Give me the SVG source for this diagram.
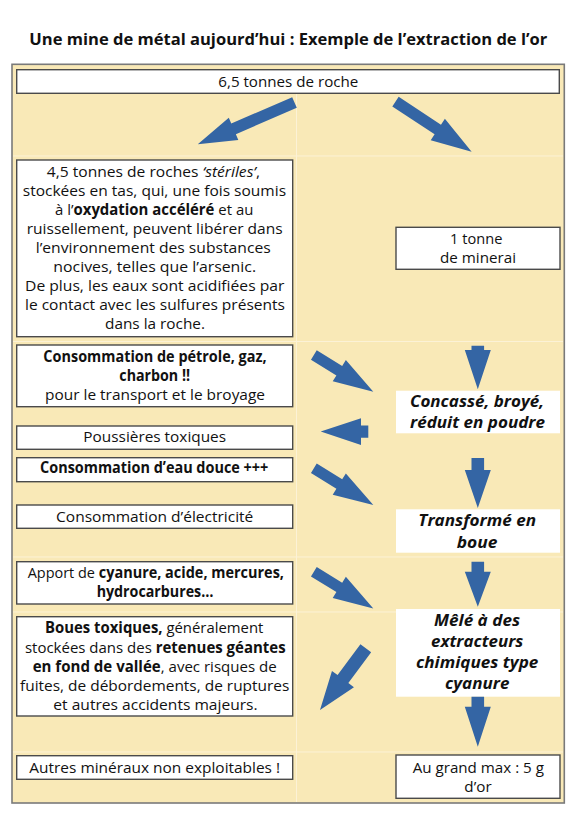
<svg xmlns="http://www.w3.org/2000/svg" width="580" height="825" viewBox="0 0 580 825">
<style>
.bg{fill:#F9E9B7;stroke:#7a7a7a;stroke-width:1.6}
.grid{stroke:#FCF2D6;stroke-width:1;fill:none}
.box{fill:#fff;stroke:#4a4a4a;stroke-width:1.4}
.wbox{fill:#fff}
text{font-family:"Open Sans","Noto Sans",sans-serif;font-size:15.3px;fill:#111;text-anchor:middle}
.b{font-weight:bold}
.i{font-style:italic}
.h{font-size:16px;font-weight:bold;font-style:italic}
.title{font-size:16.5px;font-weight:bold}
.arr{fill:#3465A4}
</style>
<rect width="580" height="825" fill="#fff"/>
<text class="title" x="288.3" y="45" textLength="518" lengthAdjust="spacingAndGlyphs">Une mine de métal aujourd’hui : Exemple de l’extraction de l’or</text>
<rect class="bg" x="12" y="64.3" width="552.3" height="738.7"/>
<g id="grid">
<line class="grid" x1="296.5" y1="94" x2="296.5" y2="802"/>
<line class="grid" x1="13" y1="156" x2="563" y2="156"/>
<line class="grid" x1="13" y1="341.5" x2="563" y2="341.5"/>
<line class="grid" x1="13" y1="557" x2="563" y2="557"/>
<line class="grid" x1="13" y1="612" x2="563" y2="612"/>
<line class="grid" x1="13" y1="752" x2="563" y2="752"/>
</g>
<g id="n-roche">
<rect class="box" x="16.7" y="69.7" width="542.6" height="23.6"/>
<text x="288.3" y="87" textLength="140" lengthAdjust="spacingAndGlyphs">6,5 tonnes de roche</text>
</g>
<g id="n-steriles">
<rect class="box" x="16.7" y="160" width="276" height="176.7"/>
<text x="153.4" y="176.8" textLength="213.3" lengthAdjust="spacingAndGlyphs">4,5 tonnes de roches <tspan class="i">‘stériles’</tspan>,</text>
<text x="154.4" y="195.9" textLength="263.3" lengthAdjust="spacingAndGlyphs">stockées en tas, qui, une fois soumis</text>
<text x="154.2" y="215" textLength="198.3" lengthAdjust="spacingAndGlyphs">à l’<tspan class="b">oxydation accéléré</tspan> et au</text>
<text x="154.7" y="234" textLength="256" lengthAdjust="spacingAndGlyphs">ruissellement, peuvent libérer dans</text>
<text x="153.2" y="253.1" textLength="235" lengthAdjust="spacingAndGlyphs">l’environnement des substances</text>
<text x="154.7" y="272.2" textLength="202.7" lengthAdjust="spacingAndGlyphs">nocives, telles que l’arsenic.</text>
<text x="154.7" y="291.2" textLength="259.3" lengthAdjust="spacingAndGlyphs">De plus, les eaux sont acidifiées par</text>
<text x="155" y="310.3" textLength="260" lengthAdjust="spacingAndGlyphs">le contact avec les sulfures présents</text>
<text x="155" y="329.4" textLength="100" lengthAdjust="spacingAndGlyphs">dans la roche.</text>
</g>
<g id="n-petrole">
<rect class="box" x="16.7" y="345" width="276" height="61.7"/>
<text class="b" x="155" y="361.7" textLength="223.3" lengthAdjust="spacingAndGlyphs">Consommation de pétrole, gaz,</text>
<text class="b" x="154.7" y="380.7" textLength="70.7" lengthAdjust="spacingAndGlyphs">charbon !!</text>
<text x="155" y="400" textLength="220" lengthAdjust="spacingAndGlyphs">pour le transport et le broyage</text>
</g>
<g id="n-poussieres">
<rect class="box" x="16.7" y="426" width="276" height="23.3"/>
<text x="154.7" y="441.7" textLength="142.7" lengthAdjust="spacingAndGlyphs">Poussières toxiques</text>
</g>
<g id="n-eau">
<rect class="box" x="16.7" y="457.7" width="276" height="24"/>
<text class="b" x="154.2" y="473.3" textLength="228.3" lengthAdjust="spacingAndGlyphs">Consommation d’eau douce +++</text>
</g>
<g id="n-electricite">
<rect class="box" x="16.7" y="505" width="276" height="23.3"/>
<text x="154.7" y="521.7" textLength="197.3" lengthAdjust="spacingAndGlyphs">Consommation d’électricité</text>
</g>
<g id="n-cyanure">
<rect class="box" x="16.7" y="561.7" width="276" height="42.3"/>
<text x="155.8" y="578.3" textLength="256.3" lengthAdjust="spacingAndGlyphs">Apport de <tspan class="b">cyanure, acide, mercures,</tspan></text>
<text class="b" x="155" y="597.3" textLength="116.7" lengthAdjust="spacingAndGlyphs">hydrocarbures…</text>
</g>
<g id="n-boues">
<rect class="box" x="16.7" y="616.7" width="276" height="99.3"/>
<text x="154.2" y="633.3" textLength="218.3" lengthAdjust="spacingAndGlyphs"><tspan class="b">Boues toxiques,</tspan> généralement</text>
<text x="155.3" y="652.5" textLength="260.7" lengthAdjust="spacingAndGlyphs">stockées dans des <tspan class="b">retenues géantes</tspan></text>
<text x="154.7" y="671.6" textLength="244" lengthAdjust="spacingAndGlyphs"><tspan class="b">en fond de vallée</tspan>, avec risques de</text>
<text x="154.7" y="690.6" textLength="269.3" lengthAdjust="spacingAndGlyphs">fuites, de débordements, de ruptures</text>
<text x="155.5" y="709.5" textLength="204.3" lengthAdjust="spacingAndGlyphs">et autres accidents majeurs.</text>
</g>
<g id="n-autres">
<rect class="box" x="16.7" y="755.7" width="276" height="23.6"/>
<text x="154.7" y="772.7" textLength="250.7" lengthAdjust="spacingAndGlyphs">Autres minéraux non exploitables !</text>
</g>
<g id="n-minerai">
<rect class="box" x="396" y="227.3" width="164" height="42"/>
<text x="476.2" y="244" textLength="52.3" lengthAdjust="spacingAndGlyphs">1 tonne</text>
<text x="478" y="263.3" textLength="76" lengthAdjust="spacingAndGlyphs">de minerai</text>
</g>
<g id="n-concasse">
<rect class="wbox" x="396" y="390.7" width="164" height="42.6"/>
<text class="h" x="477" y="407" textLength="134" lengthAdjust="spacingAndGlyphs">Concassé, broyé,</text>
<text class="h" x="477.5" y="428" textLength="135" lengthAdjust="spacingAndGlyphs">réduit en poudre</text>
</g>
<g id="n-boue">
<rect class="wbox" x="396" y="509.3" width="164" height="43.4"/>
<text class="h" x="477.2" y="526.4" textLength="117.7" lengthAdjust="spacingAndGlyphs">Transformé en</text>
<text class="h" x="477" y="547.6" textLength="40.7" lengthAdjust="spacingAndGlyphs">boue</text>
</g>
<g id="n-mele">
<rect class="wbox" x="396" y="609" width="164" height="87.7"/>
<text class="h" x="477" y="625.7" textLength="86" lengthAdjust="spacingAndGlyphs">Mêlé à des</text>
<text class="h" x="477.2" y="646.9" textLength="92.3" lengthAdjust="spacingAndGlyphs">extracteurs</text>
<text class="h" x="477.2" y="668.2" textLength="122.3" lengthAdjust="spacingAndGlyphs">chimiques type</text>
<text class="h" x="477.2" y="689.4" textLength="64.3" lengthAdjust="spacingAndGlyphs">cyanure</text>
</g>
<g id="n-or">
<rect class="box" x="396" y="755" width="164" height="43.3"/>
<text x="478.3" y="772.7" textLength="131.3" lengthAdjust="spacingAndGlyphs">Au grand max : 5 g</text>
<text x="478" y="791.7" textLength="27.3" lengthAdjust="spacingAndGlyphs">d’or</text>
</g>
<g id="connectors">
<polygon class="arr" transform="translate(294.5,102.5) rotate(156.6)" points="0,-5.8 66.4,-5.8 66.4,-12 105.4,0 66.4,12 66.4,5.8 0,5.8"/>
<polygon class="arr" transform="translate(395.5,101.7) rotate(33.3)" points="0,-5.8 50.6,-5.8 50.6,-12.9 91.1,0 50.6,12.9 50.6,5.8 0,5.8"/>
<polygon class="arr" transform="translate(313.85,355) rotate(31.7)" points="0,-5.5 29.9,-5.5 29.9,-12.5 69.9,0 29.9,12.5 29.9,5.5 0,5.5"/>
<polygon class="arr" transform="translate(313.85,468.3) rotate(31.7)" points="0,-5.5 29.9,-5.5 29.9,-12.5 69.9,0 29.9,12.5 29.9,5.5 0,5.5"/>
<polygon class="arr" transform="translate(313.85,571.7) rotate(31.7)" points="0,-5.5 29.9,-5.5 29.9,-12.5 69.9,0 29.9,12.5 29.9,5.5 0,5.5"/>
<polygon class="arr" transform="translate(368.3,431.6) rotate(180)" points="0,-6.2 7.3,-6.2 7.3,-13.3 47.6,0 7.3,13.3 7.3,6.2 0,6.2"/>
<polygon class="arr" transform="translate(365.8,648.3) rotate(126.6)" points="0,-6.7 38.3,-6.7 38.3,-13.7 76.8,0 38.3,13.7 38.3,6.7 0,6.7"/>
<polygon class="arr" transform="translate(477.8,345.7) rotate(90)" points="0,-6.3 4.3,-6.3 4.3,-13 43.6,0 4.3,13 4.3,6.3 0,6.3"/>
<polygon class="arr" transform="translate(477.8,458) rotate(90)" points="0,-6.3 12,-6.3 12,-13 50,0 12,13 12,6.3 0,6.3"/>
<polygon class="arr" transform="translate(477.8,561.7) rotate(90)" points="0,-6.3 10,-6.3 10,-13 45,0 10,13 10,6.3 0,6.3"/>
<polygon class="arr" transform="translate(477.8,696.7) rotate(90)" points="0,-6.3 10,-6.3 10,-13 50,0 10,13 10,6.3 0,6.3"/>
</g>
</svg>
